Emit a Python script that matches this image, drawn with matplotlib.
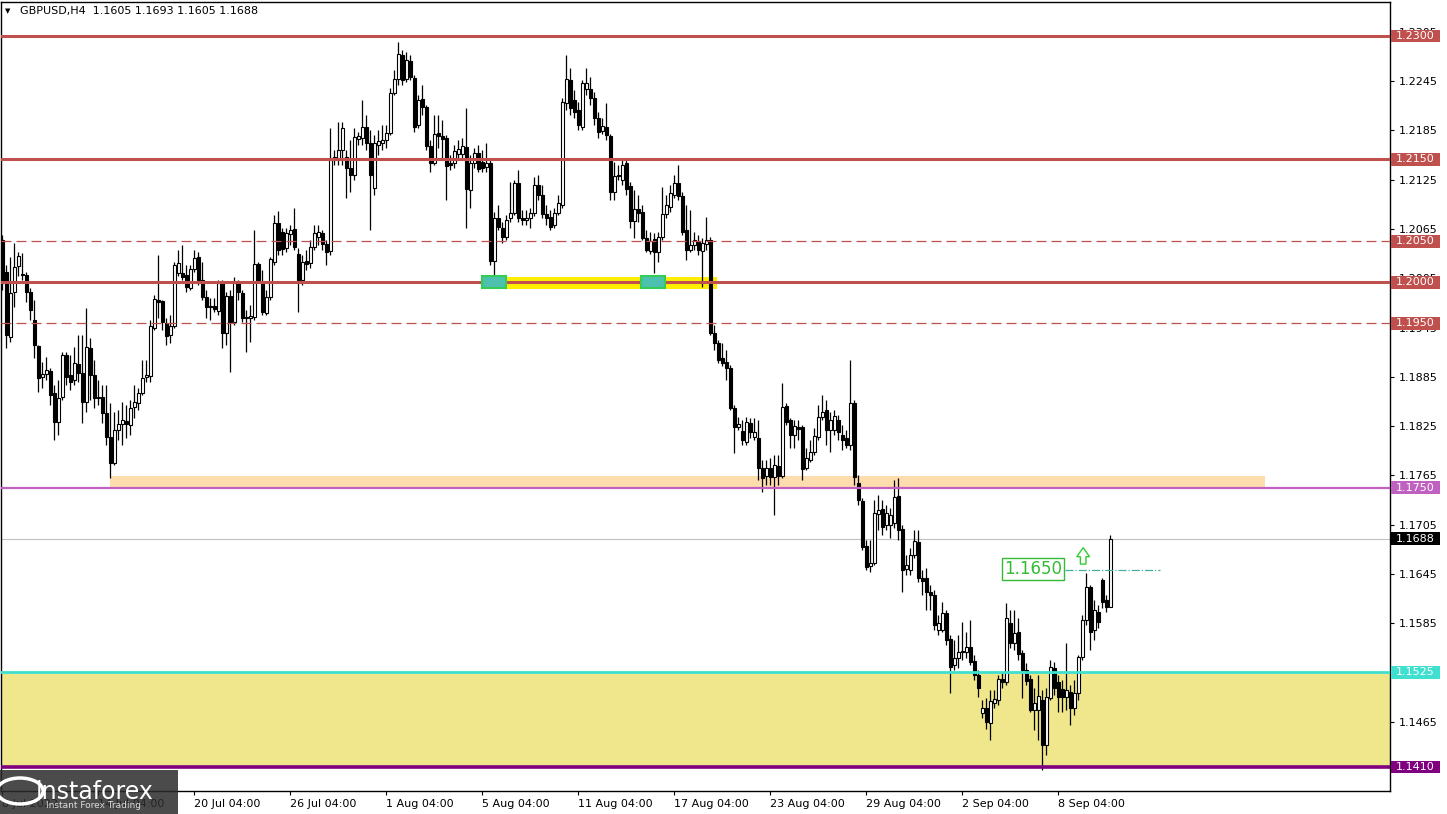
import matplotlib
matplotlib.use("Agg")
import matplotlib.pyplot as plt
import matplotlib.transforms as mtransforms
from matplotlib.patches import Rectangle, Polygon

# GBPUSD H4 candles
opens = [
    1.2052, 1.2013, 1.1933, 1.1988, 1.2020, 1.2010, 1.2009, 1.1988, 1.1954, 1.1922,
    1.1885, 1.1888, 1.1892, 1.1865, 1.1830, 1.1860, 1.1911, 1.1887, 1.1881, 1.1901,
    1.1890, 1.1854, 1.1920, 1.1887, 1.1860, 1.1860, 1.1841, 1.1812, 1.1780, 1.1820,
    1.1828, 1.1831, 1.1826, 1.1848, 1.1853, 1.1865, 1.1885, 1.1886, 1.1944, 1.1978,
    1.1977, 1.1951, 1.1936, 1.1947, 1.2011, 1.2011, 1.2009, 1.1993, 1.2016, 1.2031,
    1.2003, 1.1982, 1.1971, 1.1971, 1.1965, 1.1999, 1.1938, 1.1983, 1.1952, 1.1999,
    1.1987, 1.1958, 1.1957, 1.1958, 1.2022, 1.1999, 1.1963, 1.1982, 1.2025, 1.2072,
    1.2061, 1.2042, 1.2059, 1.2065, 1.2035, 1.2003, 1.2026, 1.2024, 1.2043, 1.2055,
    1.2060, 1.2047, 1.2038, 1.2153, 1.2151, 1.2161, 1.2153, 1.2139, 1.2131, 1.2174,
    1.2176, 1.2189, 1.2170, 1.2115, 1.2167, 1.2170, 1.2173, 1.2182, 1.2231, 1.2248,
    1.2277, 1.2248, 1.2270, 1.2249, 1.2192, 1.2223, 1.2213, 1.2166, 1.2145, 1.2182,
    1.2178, 1.2176, 1.2145, 1.2145, 1.2156, 1.2156, 1.2165, 1.2112, 1.2145, 1.2157,
    1.2147, 1.2140, 1.2145, 1.2026, 1.2078, 1.2066, 1.2055, 1.2078, 1.2085, 1.2121,
    1.2078, 1.2076, 1.2078, 1.2085, 1.2119, 1.2106, 1.2083, 1.2080, 1.2070, 1.2085,
    1.2094, 1.2218, 1.2246, 1.2222, 1.2210, 1.2189, 1.2235, 1.2235, 1.2224, 1.2200,
    1.2184, 1.2189, 1.2178, 1.2110, 1.2131, 1.2125, 1.2145, 1.2117, 1.2075, 1.2089,
    1.2086, 1.2054, 1.2038, 1.2053, 1.2037, 1.2055, 1.2083, 1.2092, 1.2106, 1.2121,
    1.2105, 1.2064, 1.2039, 1.2046, 1.2050, 1.2038, 1.2047, 1.2052, 1.1938, 1.1926,
    1.1908, 1.1903, 1.1896, 1.1847, 1.1824, 1.1819, 1.1806, 1.1829, 1.1812, 1.1810,
    1.1774, 1.1764, 1.1774, 1.1763, 1.1776, 1.1764, 1.1850, 1.1832, 1.1814, 1.1824,
    1.1824, 1.1774, 1.1784, 1.1793, 1.1812, 1.1836, 1.1845, 1.1820, 1.1820, 1.1832,
    1.1814, 1.1810, 1.1802, 1.1853, 1.1756, 1.1734, 1.1679, 1.1655, 1.1658, 1.1718,
    1.1724, 1.1705, 1.1705, 1.1707, 1.1740, 1.1700, 1.1651, 1.1650, 1.1668, 1.1684,
    1.1640, 1.1640, 1.1623, 1.1619, 1.1577, 1.1577, 1.1597, 1.1566, 1.1534, 1.1543,
    1.1550, 1.1550, 1.1556, 1.1539, 1.1522, 1.1476, 1.1482, 1.1464, 1.1488, 1.1491,
    1.1517, 1.1513, 1.1585, 1.1561, 1.1574, 1.1549, 1.1528, 1.1517, 1.1479, 1.1479,
    1.1491, 1.1437, 1.1494, 1.1530, 1.1513, 1.1505, 1.1495, 1.1501, 1.1482, 1.1500,
    1.1544, 1.1589, 1.1629, 1.1577, 1.1599, 1.1638, 1.1613, 1.1605,
]
highs = [
    1.2058, 1.2021, 1.2031, 1.2048, 1.2037, 1.2036, 1.2013, 1.1993, 1.1978, 1.1924,
    1.1903, 1.1909, 1.1896, 1.1875, 1.1881, 1.1915, 1.1915, 1.1911, 1.1921, 1.1936,
    1.1936, 1.1969, 1.1932, 1.1905, 1.1881, 1.1875, 1.1875, 1.1853, 1.1842, 1.1845,
    1.1854, 1.1851, 1.1857, 1.1875, 1.1871, 1.1905, 1.1905, 1.1954, 1.1985, 1.2033,
    1.1978, 1.1957, 1.1960, 1.2025, 1.2039, 1.2046, 1.2021, 1.2021, 1.2039, 1.2037,
    1.2025, 1.1991, 1.1981, 1.1981, 1.2003, 1.2003, 1.1988, 1.1991, 1.2007, 1.2003,
    1.1991, 1.1966, 1.1972, 1.2064, 1.2025, 1.2015, 1.1991, 1.2031, 1.2082, 1.2087,
    1.2066, 1.2066, 1.2070, 1.2091, 1.2042, 1.2033, 1.2039, 1.2052, 1.2070, 1.2070,
    1.2064, 1.2052, 1.2188, 1.2161, 1.2195, 1.2195, 1.2161, 1.2173, 1.2188, 1.2183,
    1.2222, 1.2204, 1.2185, 1.2179, 1.2185, 1.2192, 1.2192, 1.2237, 1.2259, 1.2293,
    1.2283, 1.2281, 1.2277, 1.2253, 1.2228, 1.2240, 1.2216, 1.2173, 1.2204, 1.2204,
    1.2198, 1.2179, 1.2155, 1.2167, 1.2173, 1.2176, 1.2212, 1.2155, 1.2164, 1.2167,
    1.2161, 1.2170, 1.2149, 1.2086, 1.2094, 1.2074, 1.2082, 1.2122, 1.2125, 1.2137,
    1.2088, 1.2088, 1.2091, 1.2128, 1.2131, 1.2119, 1.2094, 1.2088, 1.2091, 1.2106,
    1.2224, 1.2277, 1.2261, 1.2234, 1.2220, 1.2246, 1.2261, 1.2250, 1.2232, 1.2207,
    1.2200, 1.2218, 1.2181, 1.2147, 1.2143, 1.2149, 1.2149, 1.2122, 1.2112, 1.2106,
    1.2094, 1.2064, 1.2061, 1.2060, 1.2061, 1.2116, 1.2106, 1.2119, 1.2131, 1.2143,
    1.2110, 1.2094, 1.2088, 1.2061, 1.2058, 1.2054, 1.2080, 1.2055, 1.1948, 1.1930,
    1.1926, 1.1918, 1.1899, 1.1851, 1.1836, 1.1832, 1.1836, 1.1835, 1.1835, 1.1832,
    1.1784, 1.1784, 1.1786, 1.1790, 1.1790, 1.1877, 1.1853, 1.1835, 1.1832, 1.1832,
    1.1826, 1.1798, 1.1808, 1.1823, 1.1851, 1.1863, 1.1857, 1.1842, 1.1845, 1.1838,
    1.1826, 1.1820, 1.1905, 1.1857, 1.1765, 1.1738, 1.1686, 1.1686, 1.1735, 1.1741,
    1.1735, 1.1729, 1.1725, 1.1759, 1.1762, 1.1705, 1.1668, 1.1677, 1.1698, 1.1698,
    1.1650, 1.1652, 1.1632, 1.1625, 1.1595, 1.1611, 1.1601, 1.1571, 1.1564, 1.1571,
    1.1586, 1.1574, 1.1589, 1.1546, 1.1528, 1.1491, 1.1494, 1.1504, 1.1504, 1.1522,
    1.1526, 1.1610, 1.1601, 1.1601, 1.1591, 1.1552, 1.1536, 1.1522, 1.1506, 1.1522,
    1.1504, 1.1506, 1.1540, 1.1538, 1.1522, 1.1516, 1.1561, 1.1510, 1.1516, 1.1546,
    1.1595, 1.1646, 1.1632, 1.1613, 1.1607, 1.1640, 1.1619, 1.1693,
]
lows = [
    1.1991, 1.1920, 1.1927, 1.1970, 1.2008, 1.2003, 1.1976, 1.1954, 1.1908, 1.1867,
    1.1871, 1.1881, 1.1851, 1.1808, 1.1814, 1.1857, 1.1875, 1.1869, 1.1875, 1.1879,
    1.1829, 1.1842, 1.1857, 1.1847, 1.1851, 1.1829, 1.1802, 1.1762, 1.1778, 1.1808,
    1.1802, 1.1810, 1.1814, 1.1835, 1.1845, 1.1863, 1.1879, 1.1879, 1.1942, 1.1957,
    1.1942, 1.1924, 1.1926, 1.1944, 1.2008, 1.2003, 1.1988, 1.1991, 1.2013, 1.1997,
    1.1978, 1.1957, 1.1954, 1.1964, 1.1960, 1.1920, 1.1924, 1.1891, 1.1948, 1.1978,
    1.1952, 1.1915, 1.1927, 1.1954, 1.2000, 1.1960, 1.1960, 1.1978, 1.2021, 1.2033,
    1.2033, 1.2037, 1.2046, 1.2039, 1.1964, 1.1997, 1.2015, 1.2018, 1.2039, 1.2046,
    1.2039, 1.2021, 1.2033, 1.2143, 1.2143, 1.2143, 1.2103, 1.2110, 1.2125, 1.2167,
    1.2167, 1.2161, 1.2064, 1.2106, 1.2155, 1.2161, 1.2164, 1.2179, 1.2228, 1.2240,
    1.2240, 1.2244, 1.2246, 1.2183, 1.2188, 1.2204, 1.2161, 1.2134, 1.2143, 1.2164,
    1.2149, 1.2100, 1.2137, 1.2139, 1.2151, 1.2149, 1.2066, 1.2091, 1.2139, 1.2134,
    1.2134, 1.2134, 1.2021, 1.1997, 1.2064, 1.2048, 1.2052, 1.2074, 1.2082, 1.2074,
    1.2070, 1.2070, 1.2066, 1.2081, 1.2100, 1.2078, 1.2070, 1.2064, 1.2066, 1.2082,
    1.2091, 1.2210, 1.2204, 1.2200, 1.2185, 1.2185, 1.2228, 1.2216, 1.2192, 1.2176,
    1.2181, 1.2173, 1.2100, 1.2100, 1.2125, 1.2119, 1.2106, 1.2066, 1.2054, 1.2074,
    1.2052, 1.2037, 1.2035, 1.2011, 1.2025, 1.2052, 1.2078, 1.2086, 1.2103, 1.2100,
    1.2058, 1.2027, 1.2037, 1.2039, 1.2033, 1.1994, 1.2039, 1.1936, 1.1918, 1.1902,
    1.1898, 1.1881, 1.1845, 1.1792, 1.1820, 1.1802, 1.1802, 1.1810, 1.1808, 1.1759,
    1.1745, 1.1753, 1.1753, 1.1717, 1.1753, 1.1762, 1.1826, 1.1798, 1.1798, 1.1808,
    1.1759, 1.1772, 1.1781, 1.1790, 1.1808, 1.1832, 1.1802, 1.1793, 1.1814, 1.1808,
    1.1796, 1.1798, 1.1796, 1.1753, 1.1729, 1.1674, 1.1650, 1.1647, 1.1656, 1.1698,
    1.1692, 1.1698, 1.1689, 1.1701, 1.1686, 1.1623, 1.1644, 1.1644, 1.1664, 1.1635,
    1.1619, 1.1601, 1.1601, 1.1577, 1.1571, 1.1574, 1.1558, 1.1500, 1.1528, 1.1530,
    1.1540, 1.1543, 1.1534, 1.1516, 1.1495, 1.1470, 1.1456, 1.1443, 1.1482, 1.1485,
    1.1506, 1.1510, 1.1555, 1.1552, 1.1540, 1.1494, 1.1510, 1.1477, 1.1455, 1.1443,
    1.1406, 1.1425, 1.1491, 1.1498, 1.1477, 1.1477, 1.1479, 1.1461, 1.1473, 1.1491,
    1.1540, 1.1583, 1.1552, 1.1564, 1.1579, 1.1603, 1.1599, 1.1605,
]
closes = [
    1.1999, 1.1936, 1.1987, 1.2019, 1.2032, 1.2009, 1.1988, 1.1966, 1.1924, 1.1884,
    1.1888, 1.1893, 1.1863, 1.1830, 1.1859, 1.1911, 1.1885, 1.1879, 1.1902, 1.1890,
    1.1854, 1.1921, 1.1887, 1.1859, 1.1859, 1.1841, 1.1812, 1.1780, 1.1820, 1.1828,
    1.1832, 1.1828, 1.1847, 1.1854, 1.1865, 1.1884, 1.1887, 1.1947, 1.1980, 1.1976,
    1.1952, 1.1935, 1.1947, 1.2021, 1.2024, 1.2007, 1.1994, 1.2016, 1.2030, 1.2003,
    1.1982, 1.1970, 1.1970, 1.1968, 1.1999, 1.1938, 1.1983, 1.1952, 1.1999, 1.1988,
    1.1957, 1.1957, 1.1959, 1.2022, 1.2003, 1.1964, 1.1982, 1.2029, 1.2072, 1.2039,
    1.2041, 1.2060, 1.2064, 1.2043, 1.2003, 1.2025, 1.2022, 1.2043, 1.2060, 1.2061,
    1.2047, 1.2037, 1.2151, 1.2149, 1.2161, 1.2188, 1.2139, 1.2131, 1.2177, 1.2178,
    1.2189, 1.2170, 1.2131, 1.2170, 1.2172, 1.2173, 1.2182, 1.2231, 1.2248, 1.2278,
    1.2246, 1.2271, 1.2250, 1.2189, 1.2222, 1.2213, 1.2166, 1.2145, 1.2181, 1.2178,
    1.2174, 1.2142, 1.2143, 1.2160, 1.2162, 1.2166, 1.2114, 1.2145, 1.2157, 1.2138,
    1.2139, 1.2145, 1.2026, 1.2078, 1.2067, 1.2055, 1.2076, 1.2085, 1.2121, 1.2078,
    1.2076, 1.2078, 1.2085, 1.2119, 1.2106, 1.2083, 1.2078, 1.2067, 1.2085, 1.2097,
    1.2220, 1.2248, 1.2212, 1.2207, 1.2192, 1.2243, 1.2243, 1.2224, 1.2200, 1.2183,
    1.2190, 1.2179, 1.2110, 1.2129, 1.2129, 1.2143, 1.2114, 1.2075, 1.2089, 1.2085,
    1.2054, 1.2039, 1.2050, 1.2037, 1.2055, 1.2083, 1.2094, 1.2109, 1.2121, 1.2105,
    1.2061, 1.2039, 1.2046, 1.2052, 1.2039, 1.2048, 1.2052, 1.1938, 1.1926, 1.1905,
    1.1902, 1.1896, 1.1847, 1.1824, 1.1828, 1.1808, 1.1830, 1.1818, 1.1818, 1.1774,
    1.1762, 1.1774, 1.1763, 1.1778, 1.1764, 1.1848, 1.1830, 1.1814, 1.1825, 1.1821,
    1.1773, 1.1786, 1.1793, 1.1813, 1.1836, 1.1842, 1.1820, 1.1832, 1.1837, 1.1818,
    1.1808, 1.1802, 1.1853, 1.1763, 1.1735, 1.1678, 1.1653, 1.1658, 1.1719, 1.1723,
    1.1702, 1.1719, 1.1717, 1.1739, 1.1698, 1.1650, 1.1656, 1.1668, 1.1685, 1.1640,
    1.1636, 1.1623, 1.1619, 1.1583, 1.1585, 1.1597, 1.1564, 1.1532, 1.1543, 1.1550,
    1.1551, 1.1556, 1.1538, 1.1522, 1.1506, 1.1482, 1.1465, 1.1490, 1.1493, 1.1517,
    1.1513, 1.1591, 1.1561, 1.1573, 1.1547, 1.1528, 1.1515, 1.1479, 1.1488, 1.1496,
    1.1437, 1.1495, 1.1532, 1.1506, 1.1495, 1.1495, 1.1504, 1.1482, 1.1500, 1.1544,
    1.1589, 1.1629, 1.1574, 1.1601, 1.1586, 1.1611, 1.1605, 1.1688,
]

date_labels = ["8 Jul 2022", "14 Jul 04:00", "20 Jul 04:00", "26 Jul 04:00",
               "1 Aug 04:00", "5 Aug 04:00", "11 Aug 04:00", "17 Aug 04:00",
               "23 Aug 04:00", "29 Aug 04:00", "2 Sep 04:00", "8 Sep 04:00"]
date_bars = [0, 24, 48, 72, 96, 120, 144, 168, 192, 216, 240, 264]

# scale ticks; 1.1525 and 1.1405 sit under the level boxes
price_ticks = [1.2305, 1.2245, 1.2185, 1.2125, 1.2065, 1.2005, 1.1945, 1.1885,
               1.1825, 1.1765, 1.1705, 1.1645, 1.1585, 1.1465]

red_levels = [1.2300, 1.2150, 1.2000]
dashed_levels = [1.2050, 1.1950]
level_1750 = 1.1750
level_1525 = 1.1525
level_1410 = 1.1410
target = 1.1650
last_price = closes[-1]

W, H = 1447, 814
fig = plt.figure(figsize=(W / 100, H / 100), dpi=100)
ax = fig.add_axes([1 / W, 23 / H, 1389 / W, 789 / H])
ax.set_xlim(-0.325, 346.9)
ax.set_ylim(1.13807, 1.23414)

red = "#c0504d"

# zones
ax.axhspan(level_1410, level_1525, color="#f0e68c", zorder=0)
ax.add_patch(Rectangle((26.9, 1.1750), 288.8, 0.0014, facecolor="#fddcad", edgecolor="none", zorder=0))
ax.add_patch(Rectangle((119.9, 1.1992), 58.8, 0.0014, facecolor="#ffee00", edgecolor="none", zorder=1))

# candles
n = len(closes)
idx = list(range(n))
bottoms = [min(o, c) for o, c in zip(opens, closes)]
heights = [abs(c - o) for o, c in zip(opens, closes)]
faces = ["white" if c >= o else "black" for o, c in zip(opens, closes)]
ax.vlines(idx, lows, highs, color="black", lw=0.9, zorder=3)
ax.bar(idx, heights, bottom=bottoms, width=0.7, color=faces, edgecolor="black", linewidth=0.8, zorder=4)

# level lines
for lv in red_levels:
    ax.axhline(lv, color=red, lw=2.2, zorder=5)
for lv in dashed_levels:
    ax.axhline(lv, color=red, lw=0.9, ls=(0, (8, 4)), zorder=5)
ax.axhline(level_1750, color="#c060c0", lw=1.6, zorder=5)
ax.axhline(level_1525, color="#40e0d0", lw=2.0, zorder=5)
ax.axhline(level_1410, color="#800080", lw=2.6, zorder=5)
ax.axhline(last_price, color="#c0c0c0", lw=0.8, zorder=2)

# green marks on 1.2000
for x0 in [119.9, 159.6]:
    ax.add_patch(Rectangle((x0, 1.1993), 6.0, 0.0015, facecolor="#4ec0b0", edgecolor="#33cc55", lw=1.5, zorder=6))

# 1.1650 target
ax.plot([265.7, 289.4], [target, target], color="#40b0a0", lw=0.9, ls="-.", zorder=6)
ax.text(257.7, target + 0.0001, "%.4f" % target, color="#33bb33", fontsize=12, ha="center", va="center",
        zorder=7, bbox=dict(facecolor="white", edgecolor="#33bb33", lw=1, pad=1.5))
arrow = [(268.6, 1.1666), (270.2, 1.1677), (271.8, 1.1666), (270.9, 1.1666),
         (270.9, 1.1657), (269.5, 1.1657), (269.5, 1.1666)]
ax.add_patch(Polygon(arrow, closed=True, facecolor="white", edgecolor="#33cc33", lw=1, zorder=7))

# axes look
for s in ax.spines.values():
    s.set_color("black")
    s.set_linewidth(1)
ax.yaxis.tick_right()
ax.set_yticks(price_ticks)
ax.set_yticklabels(["%.4f" % p for p in price_ticks])
ax.tick_params(axis="y", length=3, labelsize=8, pad=3)
ax.set_xticks(date_bars)
ax.set_xticklabels(date_labels, ha="left")
ax.tick_params(axis="x", length=3, labelsize=8, pad=3)

# right side price boxes
blend = mtransforms.blended_transform_factory(ax.transAxes, ax.transData)
boxes = [(1.2300, red), (1.2150, red), (1.2050, red), (1.2000, red), (1.1950, red),
         (level_1750, "#c060c0"), (last_price, "black"), (level_1525, "#40e0d0"), (level_1410, "#800080")]
for lv, col in boxes:
    ax.add_patch(Rectangle((1.0007, lv - 0.00078), 0.0355, 0.00156, transform=blend,
                           facecolor=col, edgecolor="none", clip_on=False, zorder=10))
    ax.text(1.0045, lv, "%.4f" % lv, transform=blend, color="white", fontsize=8,
            va="center", ha="left", clip_on=False, zorder=11)

# title
fig.text(5 / W, 1 - 11 / H, "\u25bc", fontsize=5, va="center")
fig.text(20 / W, 1 - 11 / H, "GBPUSD,H4  %.4f %.4f %.4f %.4f" % (opens[-1], highs[-1], lows[-1], closes[-1]),
         fontsize=8, va="center")

# logo
fig.patches.append(Rectangle((0, 0), 178 / W, 44 / H, transform=fig.transFigure,
                             facecolor="#2b2b2b", edgecolor="none", alpha=0.85, zorder=20))
fig.text(36 / W, 22 / H, "instaforex", color="white", fontsize=17, va="center", zorder=21)
fig.text(46 / W, 8 / H, "Instant Forex Trading", color="#dddddd", fontsize=6.5, va="center", zorder=21)
fig.patches.append(plt.Circle((20 / W, 23 / H), 13 / H, transform=fig.transFigure,
                              facecolor="none", edgecolor="white", lw=2.5, zorder=21))

fig.savefig("out.png", dpi=100)
